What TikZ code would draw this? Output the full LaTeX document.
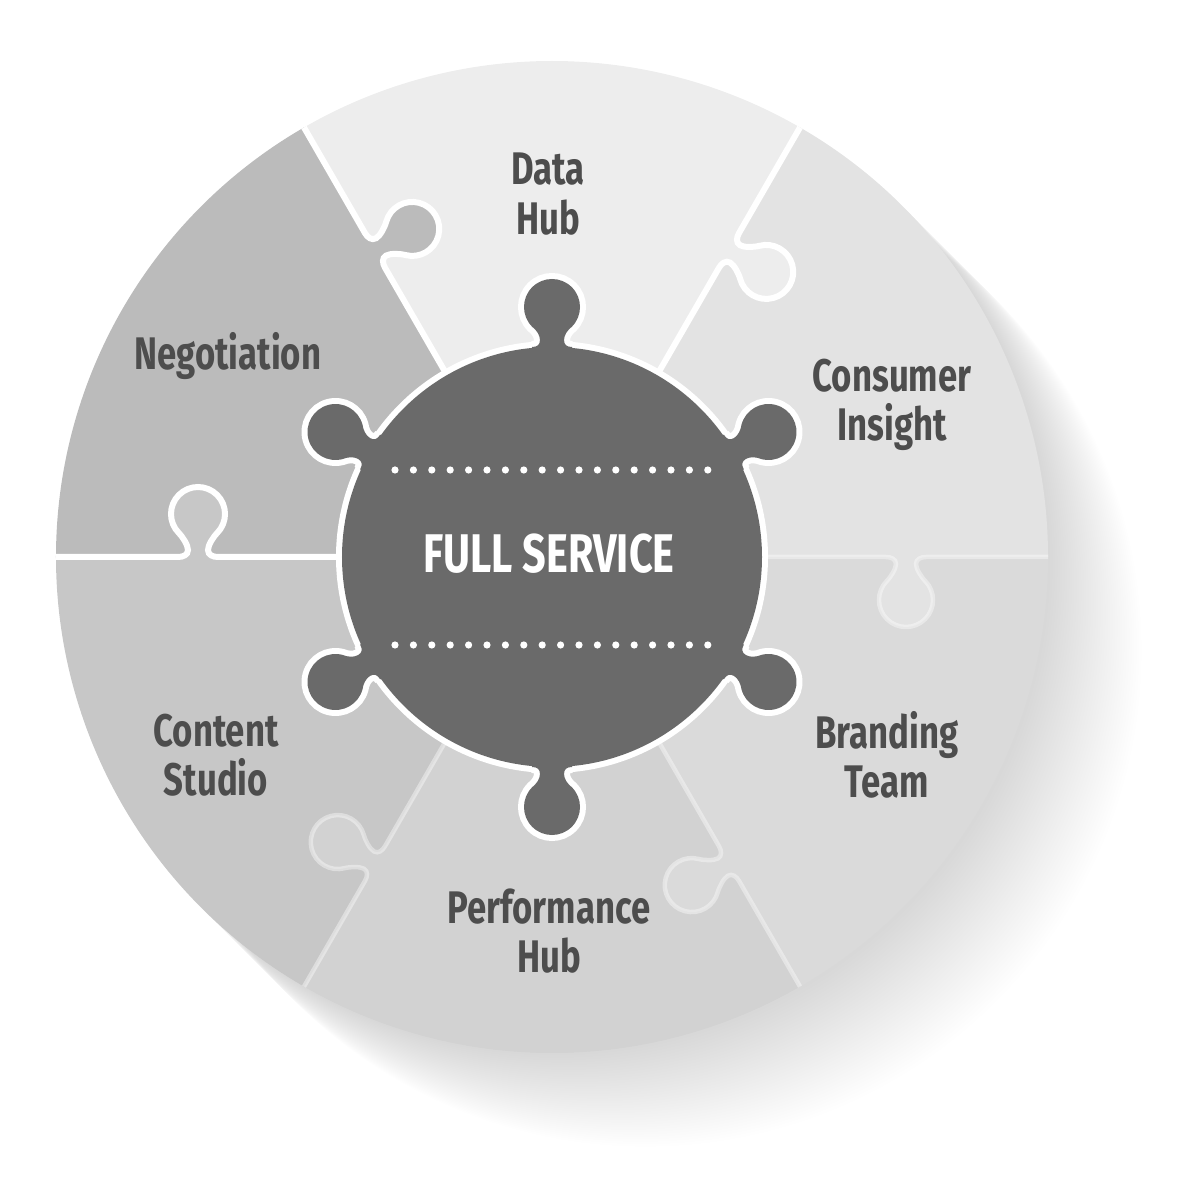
\documentclass[tikz,border=0pt]{standalone}
\usepackage{fontspec}
\newfontfamily\labelfont{Fira Sans}[FakeStretch=0.76]
\usepackage{tikz}
\usetikzlibrary{calc}

\definecolor{datagray}{HTML}{EDEDED}
\definecolor{consgray}{HTML}{E3E3E3}
\definecolor{brandgray}{HTML}{DADADA}
\definecolor{perfgray}{HTML}{D2D2D2}
\definecolor{contgray}{HTML}{C7C7C7}
\definecolor{negogray}{HTML}{BBBBBB}
\definecolor{hubgray}{HTML}{6A6A6A}
\definecolor{textgray}{HTML}{4D4D4D}

\tikzset{
  lbl/.style={text=textgray, font=\labelfont\bfseries\fontsize{26}{28}\selectfont, align=center},
  hubtext/.style={text=white, font=\labelfont\bfseries\fontsize{31}{34}\selectfont},
  gapline/.style={draw=white, line width=1.2mm},
  softgap/.style={draw=white, line width=0.9mm, opacity=0.4},
}

\begin{document}
\begin{tikzpicture}[x=0.02cm, y=0.02cm]
  \useasboundingbox (-552,-625) rectangle (630,557);
  % long soft shadow, darker close to the disc
  \foreach \i in {1,...,70}
    \fill[black, opacity={0.0042*(1-\i/75)}] (\i*2.4,-\i*2.4) circle[radius=496];
  % six pieces
  \foreach \a/\col in {60/datagray, 0/consgray, -60/brandgray, -120/perfgray, 180/contgray, 120/negogray}
    \fill[\col] (0,0) -- (\a:496) arc[start angle=\a, end angle=\a+60, radius=496] -- cycle;
  % tabs on the seams
  \foreach \a/\col in {120/negogray, 60/datagray, 0/consgray, -60/brandgray, -120/perfgray, 180/contgray}
    \fill[\col, rotate=\a, yscale=-1] (334,-2) -- (334,0) .. controls (339,0) and (344,2) .. (344,7)
      .. controls (344,12) and (338.4,20.4) .. (334.9,23.9) arc[start angle=225, end angle=-45, radius=27]
      .. controls (369.6,20.4) and (364,12) .. (364,7) .. controls (364,2) and (369,0) .. (374,0) -- (374,-2) -- cycle;
  % seams
  \foreach \a/\sty in {120/gapline, 60/gapline, 180/gapline, 0/softgap, -60/softgap, -120/softgap}
    \draw[\sty, rotate=\a, yscale=-1] (0,0) -- (334,0) .. controls (339,0) and (344,2) .. (344,7)
      .. controls (344,12) and (338.4,20.4) .. (334.9,23.9) arc[start angle=225, end angle=-45, radius=27]
      .. controls (369.6,20.4) and (364,12) .. (364,7) .. controls (364,2) and (369,0) .. (374,0) -- (496,0);
  % hub: white rim first, dark body on top
  \fill[white] (0,0) circle[radius=216];
  \foreach \a in {30,90,...,330}
    \draw[white, line width=2.4mm, rotate=\a-90] (-20,210) .. controls (-15,210) and (-12,212) .. (-12,217)
      .. controls (-12,222) and (-15.8,227.2) .. (-19.8,230.2) arc[start angle=225, end angle=-45, radius=28]
      .. controls (15.8,227.2) and (12,222) .. (12,217) .. controls (12,212) and (15,210) .. (20,210);
  \fill[hubgray] (0,0) circle[radius=210];
  \foreach \a in {30,90,...,330}
    \fill[hubgray, rotate=\a-90] (-20,200) -- (-20,210) .. controls (-15,210) and (-12,212) .. (-12,217)
      .. controls (-12,222) and (-15.8,227.2) .. (-19.8,230.2) arc[start angle=225, end angle=-45, radius=28]
      .. controls (15.8,227.2) and (12,222) .. (12,217) .. controls (12,212) and (15,210) .. (20,210) -- (20,200) -- cycle;
  % dotted rules
  \foreach \y in {87,-88}
    \foreach \i in {0,...,17}
      \fill[white] (-157+\i*18.4,\y) circle[radius=3.6];
  \node[hubtext] (full) at (-3,3) {FULL SERVICE};
  % labels
  \node[lbl] (data) at (-4,363) {Data\\Hub};
  \node[lbl] (nego) at (-324,201) {Negotiation};
  \node[lbl] (cons) at (340,152) {Consumer\\Insight};
  \node[lbl] (brand) at (335,-198) {Branding\\Team};
  \node[lbl] (perf) at (-3,-374) {Performance\\Hub};
  \node[lbl] (cont) at (-336,-198) {Content\\Studio};
\end{tikzpicture}
\end{document}
